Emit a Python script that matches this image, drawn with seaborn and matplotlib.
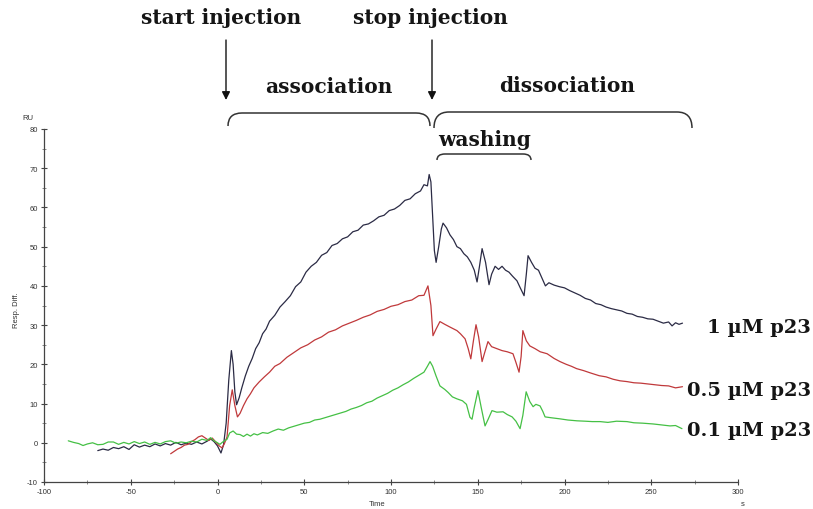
import numpy as np
import pandas as pd
import matplotlib
matplotlib.use("Agg")
import matplotlib.pyplot as plt
import seaborn as sns
from matplotlib.path import Path
from matplotlib.patches import PathPatch
from matplotlib.ticker import MultipleLocator

# ---------------- data ----------------
t_1uM = [-69, -66, -63, -60, -57, -54, -51, -48, -45, -42, -39, -36, -33, -30, -27, -24, -21, -18, -15, -12,
         -9, -6, -4, -2, 0, 2, 3.5, 5, 6.5, 8, 9, 10, 11, 12.5, 14, 16, 18, 20, 22, 24, 26, 28, 30, 33, 36,
         39, 42, 45, 48, 51, 54, 57, 60, 63, 66, 69, 72, 75, 78, 81, 84, 87, 90, 93, 96, 99, 102, 105, 108,
         111, 114, 117, 119, 121, 122, 123, 124, 125, 126, 127.5, 129, 130, 132, 134, 136, 138, 140, 142,
         144, 146, 148, 149.6, 151, 152.5, 154.5, 156.5, 158, 160, 162, 164, 166, 168, 170, 172.6, 174.5,
         176.7, 178, 179, 181, 183, 185, 187, 189, 191, 194, 197, 200, 203, 206, 209, 212, 215, 218, 221,
         224, 227, 230, 233, 236, 239, 242, 245, 248, 251, 254, 257, 260, 262, 264, 266, 268]
v_1uM = [-2.0, -1.6, -1.9, -1.2, -1.5, -1.0, -1.7, -0.5, -1.1, -0.6, -1.0, -0.3, -0.8, -0.2, -0.6, 0.1, -0.5,
         -0.1, -0.4, 0.2, -0.3, 0.4, 1.0, 0.3, -0.8, -2.6, -0.5, 5, 16, 23.5, 20, 13, 9.7, 11.5, 14, 17, 19.5,
         21.5, 24, 25.5, 27.8, 29, 31, 32.5, 34.6, 36, 37.5, 39.8, 41, 43.5, 45, 46, 47.8, 48.5, 50.3, 50.8,
         52, 52.5, 53.8, 54.2, 55.5, 55.8, 56.6, 57.6, 58, 59.2, 59.6, 60.5, 61.8, 62.2, 63.5, 64.2, 65.8,
         65.5, 68.4, 66.5, 58, 49, 46, 50, 54.5, 56, 54.8, 53, 51.8, 50, 49.5, 48.2, 47.4, 46, 44, 41, 45,
         49.5, 46, 40.3, 43, 45, 44.2, 45, 44, 43.5, 42.5, 41.3, 39.5, 37.5, 43, 47.7, 46, 44.5, 44, 42, 40,
         40.8, 40.2, 39.8, 39.5, 38.8, 38.2, 37.6, 36.8, 36.4, 35.5, 35.2, 34.6, 34.2, 33.9, 33.6, 33, 32.8,
         32.2, 32, 31.6, 31.5, 31, 30.5, 30.8, 29.8, 30.6, 30.2, 30.5]

t_05uM = [-27, -25, -23, -21, -19, -17, -15, -13, -11, -9, -7, -5, -3, -1, 1, 2.6, 4, 5.5, 7, 8.5, 10, 11.5,
          13, 15, 17, 19, 21, 24, 27, 30, 33, 36, 40, 44, 48, 52, 56, 60, 64, 68, 72, 76, 80, 84, 88, 92,
          96, 100, 104, 108, 112, 116, 119, 121.3, 123, 124.2, 126, 128.2, 131, 134, 138, 140, 142.7, 144.5,
          146, 147.5, 149, 150.5, 152.5, 154, 155.9, 158, 161, 164, 167, 170.3, 172, 173.8, 175, 176, 178,
          180, 183, 186, 190, 194, 197.4, 201, 204, 207, 211, 215, 220, 224, 228, 232, 236, 240, 244, 248,
          252, 256, 260, 264, 268]
v_05uM = [-2.8, -2.2, -1.6, -1.2, -0.6, -0.4, 0.3, 0.8, 1.5, 1.8, 1.2, 0.6, 1.2, 0.2, -0.8, -1.3, -0.2, 1.5,
          9.5, 13.5, 9.5, 6.6, 7.5, 9.5, 11.2, 12.5, 14, 15.5, 16.8, 18, 19.5, 20.2, 21.8, 23, 24.2, 25, 26.2,
          27, 28.2, 28.8, 29.8, 30.5, 31.2, 32, 32.6, 33.5, 34, 34.8, 35.2, 36, 36.4, 37.5, 37.6, 40, 35, 27.3,
          29, 30.9, 30.2, 29.5, 28.6, 27.8, 26.5, 24, 21.4, 26, 30.1, 27, 20.7, 23, 25.8, 24.5, 24, 23.5, 23.2,
          22.7, 20.5, 18, 22, 28.6, 26, 24.7, 24, 23.2, 22.7, 21.5, 20.7, 20, 19.5, 18.9, 18.4, 17.8, 17.1,
          16.8, 16.2, 15.8, 15.6, 15.3, 15.2, 15, 14.8, 14.6, 14.5, 14, 14.3]

t_01uM = [-86, -83, -80, -77.5, -75, -72, -69, -66, -63, -60, -57, -54, -51, -48, -45, -42, -39, -36, -33, -30,
          -27, -24, -21, -18, -15, -12, -9, -6, -4, -2, 0, 1.4, 3, 5.5, 7, 9, 11, 13, 15, 17, 19, 21, 23, 26,
          29, 32, 35, 38, 41, 44, 47, 50, 53, 56, 59, 62, 65, 68, 71, 74, 77, 80, 83, 86, 89, 92, 95, 98, 101,
          104, 107, 110, 113, 116, 119, 121, 122.5, 124, 126, 128.2, 131, 133, 135.4, 138, 141.2, 143.5, 145.5,
          146.7, 148, 150.1, 152, 154.2, 156, 158.2, 161, 164.6, 167, 169.8, 172, 174.4, 176, 177.9, 180, 181.9,
          183.5, 185.9, 187.5, 188.8, 192, 197.4, 202, 207.2, 212, 216, 220.5, 225, 230, 236, 240, 245, 251,
          255, 260.8, 264, 267.7]
v_01uM = [0.5, 0.1, -0.2, -0.7, -0.3, 0, -0.5, -0.4, 0.2, 0.2, -0.4, 0.1, -0.3, 0.3, -0.2, 0.2, -0.4, 0.1,
          -0.3, 0.3, 0.5, -0.1, 0.2, 0, 0.4, 0.2, 0.9, 0.6, 1.3, 0.5, 0, -0.4, 0.2, 0.9, 2.5, 3, 2.2, 2.1, 1.6,
          2.2, 1.7, 2.3, 2.0, 2.6, 2.4, 3.0, 3.5, 3.2, 3.8, 4.2, 4.6, 5.0, 5.2, 5.8, 6.0, 6.4, 6.8, 7.2, 7.6,
          8.0, 8.6, 9.0, 9.5, 10.2, 10.6, 11.4, 12, 12.6, 13.4, 14, 14.8, 15.5, 16.4, 17.2, 18, 19.5, 20.7,
          19.5, 17, 14.5, 13.6, 12.8, 11.7, 11.2, 10.7, 9.8, 6.5, 6.0, 9, 13.3, 9, 4.3, 6, 8.2, 7.8, 7.9, 7.2,
          6.6, 5.5, 3.6, 7, 13, 10.5, 9.2, 9.8, 9.4, 8, 6.6, 6.4, 6.1, 5.8, 5.6, 5.5, 5.4, 5.4, 5.2, 5.5, 5.4,
          5.1, 5.0, 4.8, 4.6, 4.3, 4.4, 3.6]

series_names = ["1 \u00b5M p23", "0.5 \u00b5M p23", "0.1 \u00b5M p23"]
series_colors = ["#2b2b45", "#c0393b", "#45c045"]

x_ticks = [-100, -50, 0, 50, 100, 150, 200, 250, 300]
y_ticks = [-10, 0, 10, 20, 30, 40, 50, 60, 70, 80]

# ---------------- build table ----------------
df = pd.concat([
    pd.DataFrame({"Time": t_1uM, "Resp": v_1uM, "series": series_names[0]}),
    pd.DataFrame({"Time": t_05uM, "Resp": v_05uM, "series": series_names[1]}),
    pd.DataFrame({"Time": t_01uM, "Resp": v_01uM, "series": series_names[2]}),
], ignore_index=True)

sns.set_theme(style="white")
plt.rcParams["font.family"] = ["DejaVu Sans"]
plt.rcParams["axes.unicode_minus"] = False

W, H = 813, 510
fig = plt.figure(figsize=(W / 100, H / 100), dpi=100)
fig.patch.set_facecolor("white")

ax = fig.add_axes([44 / W, 1 - 483 / H, (738 - 44) / W, (483 - 130) / H])
sns.lineplot(data=df, x="Time", y="Resp", hue="series", hue_order=series_names,
             palette=dict(zip(series_names, series_colors)), estimator=None, sort=False,
             linewidth=0.9, legend=False, ax=ax)

ax.set_xlim(-100, 300)
ax.set_ylim(-10, 80)
ax.set_xticks(x_ticks)
ax.set_yticks(y_ticks)
ax.set_xticklabels([str(v) for v in x_ticks])
ax.set_yticklabels([str(v) for v in y_ticks])
ax.xaxis.set_minor_locator(MultipleLocator(25))
ax.yaxis.set_minor_locator(MultipleLocator(5))
ax.set_xlabel("")
ax.set_ylabel("")
for s in ["top", "right"]:
    ax.spines[s].set_visible(False)
for s in ["left", "bottom"]:
    ax.spines[s].set_color("#444444")
    ax.spines[s].set_linewidth(0.9)
ax.tick_params(which="major", direction="inout", length=5, width=0.8, color="#444444",
               labelsize=5.5, labelcolor="#333333", pad=2, left=True, bottom=True)
ax.tick_params(which="minor", direction="inout", length=3, width=0.6, color="#777777",
               left=True, bottom=True)
for lab in ax.get_xticklabels() + ax.get_yticklabels():
    lab.set_family(["Liberation Sans", "DejaVu Sans"])
ax.patch.set_alpha(0)

# ---------------- overlay for annotations ----------------
ov = fig.add_axes([0, 0, 1, 1], zorder=5)
ov.set_xlim(0, W)
ov.set_ylim(H, 0)
ov.axis("off")
ov.patch.set_alpha(0)

serif_b = dict(family=["DejaVu Serif"], weight="bold", color="#151515")
ov.text(221, 18, "start injection", ha="center", va="center", fontsize=14.5, **serif_b)
ov.text(430, 18, "stop injection", ha="center", va="center", fontsize=14.5, **serif_b)
ov.text(329, 87, "association", ha="center", va="center", fontsize=14.5, **serif_b)
ov.text(567, 86, "dissociation", ha="center", va="center", fontsize=14.5, **serif_b)
ov.text(485, 140, "washing", ha="center", va="center", fontsize=14.5, **serif_b)

label_y = [328, 391, 431]
for name, yy in zip(series_names, label_y):
    ov.text(811, yy, name, ha="right", va="center", fontsize=14, **serif_b)

for xa in (226, 432):
    ov.annotate("", xy=(xa, 101), xytext=(xa, 41),
                arrowprops=dict(arrowstyle="-|>", color="#111111", lw=1.0,
                                mutation_scale=12, shrinkA=0, shrinkB=0))


def brace(x0, x1, ytop, ybot, r):
    verts = [(x0, ybot), (x0, ytop), (x0 + r, ytop), (x1 - r, ytop), (x1, ytop), (x1, ybot)]
    codes = [Path.MOVETO, Path.CURVE3, Path.CURVE3, Path.LINETO, Path.CURVE3, Path.CURVE3]
    ov.add_patch(PathPatch(Path(verts, codes), fill=False, edgecolor="#333333", lw=1.1))


brace(228, 430, 114, 127, 14)
brace(434, 692, 113, 129, 15)
brace(437, 531, 155, 161, 8)

small = dict(family=["Liberation Sans", "DejaVu Sans"], fontsize=5.5, color="#333333")
ov.text(28, 118, "RU", ha="center", va="center", **small)
ov.text(16, 310, "Resp. Diff.", ha="center", va="center", rotation=90, **small)
ov.text(377, 505, "Time", ha="center", va="center", **small)
ov.text(743, 505, "s", ha="center", va="center", **small)

fig.savefig("out.png", dpi=100)
